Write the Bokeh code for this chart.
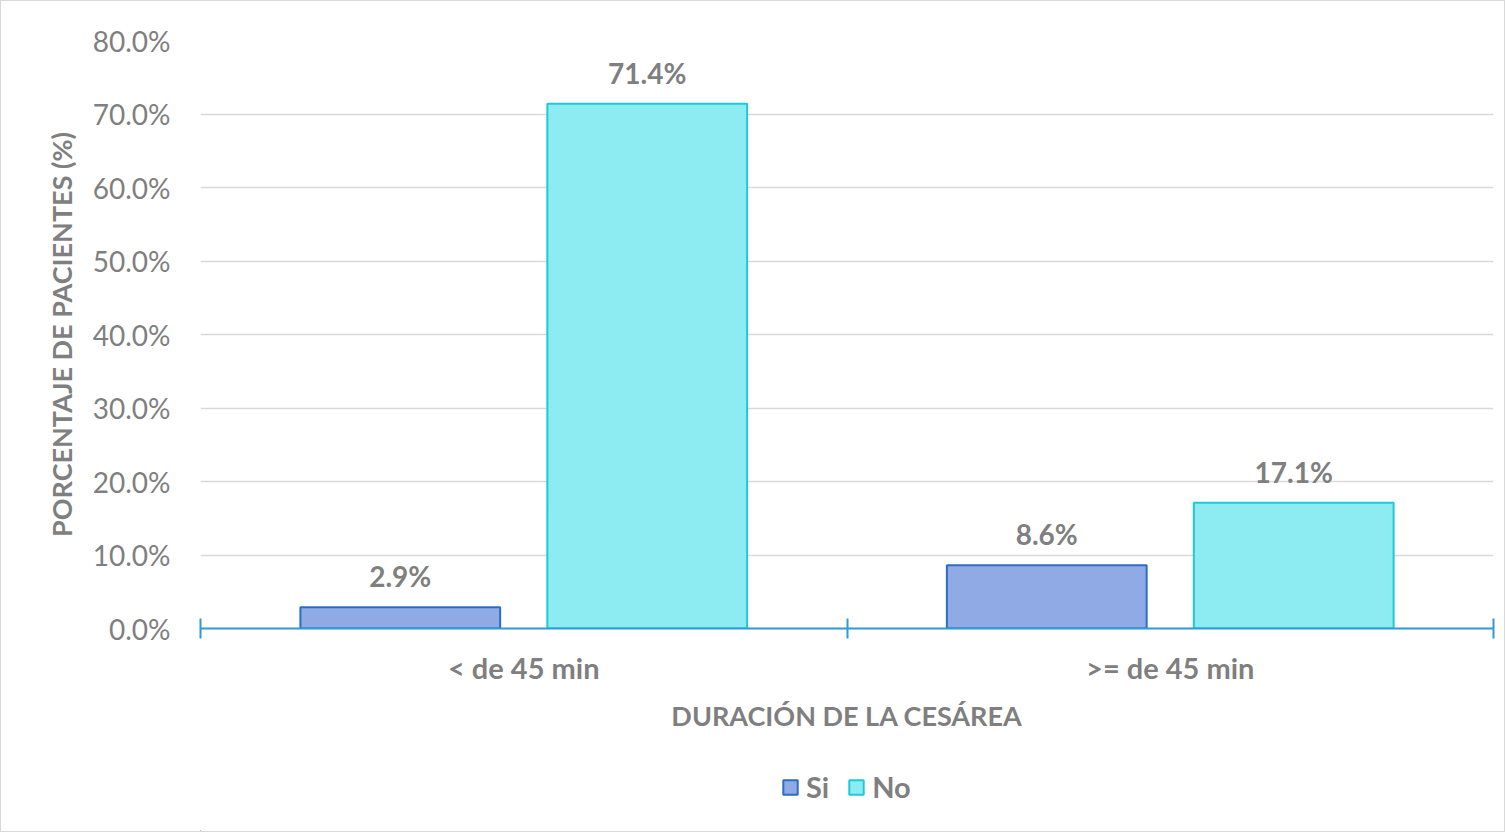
from bokeh.plotting import figure
from bokeh.layouts import column
from bokeh.models import (ColumnDataSource, FixedTicker, PrintfTickFormatter, LabelSet,
                          Legend, LegendItem, Range1d)
from bokeh.core.properties import value
from bokeh.embed import file_html
from bokeh.resources import INLINE

categories = ["< de 45 min", ">= de 45 min"]
series_names = ["Si", "No"]
si_values = [2.9, 8.6]
no_values = [71.4, 17.1]
y_ticks = [0, 10, 20, 30, 40, 50, 60, 70, 80]

FONT = "Lato"
GRAY = "#7F7F7F"
SI_FILL, SI_LINE = "#8FAAE4", "#2C6DC4"
NO_FILL, NO_LINE = "#8DECF2", "#1CCAD8"
offset = 0.191
bar_w = 0.309

centers = [i + 0.5 for i in range(len(categories))]
src_si = ColumnDataSource(dict(x=[c - offset for c in centers], top=si_values,
                               lbl=[f"{v:.1f}%" for v in si_values]))
src_no = ColumnDataSource(dict(x=[c + offset for c in centers], top=no_values,
                               lbl=[f"{v:.1f}%" for v in no_values]))

p = figure(width=1503, height=750, output_backend="svg", toolbar_location=None,
           x_range=Range1d(0, len(categories)), y_range=Range1d(0, 80),
           min_border_left=199, min_border_right=11, min_border_top=39, min_border_bottom=123)
p.outline_line_color = None
p.background_fill_color = "white"

p.vbar(x="x", top="top", width=bar_w, bottom=0, source=src_si,
       fill_color=SI_FILL, line_color=SI_LINE, line_width=2)
p.vbar(x="x", top="top", width=bar_w, bottom=0, source=src_no,
       fill_color=NO_FILL, line_color=NO_LINE, line_width=2)

for src in (src_si, src_no):
    p.add_layout(LabelSet(x="x", y="top", text="lbl", source=src, y_offset=31,
                          text_align="center", text_baseline="middle",
                          text_font=value(FONT), text_font_style="bold",
                          text_font_size="28px", text_color=GRAY))

# y axis
p.yaxis.ticker = FixedTicker(ticks=y_ticks)
p.yaxis.formatter = PrintfTickFormatter(format="%.1f%%")
p.yaxis.axis_line_color = None
p.yaxis.major_tick_line_color = None
p.yaxis.minor_tick_line_color = None
p.yaxis.major_tick_out = 0
p.yaxis.major_tick_in = 0
p.yaxis.major_label_standoff = 30
p.yaxis.major_label_text_font = FONT
p.yaxis.major_label_text_font_size = "28px"
p.yaxis.major_label_text_color = GRAY
p.yaxis.axis_label = "PORCENTAJE DE PACIENTES (%)"
p.yaxis.axis_label_text_font = FONT
p.yaxis.axis_label_text_font_size = "27px"
p.yaxis.axis_label_text_font_style = "bold"
p.yaxis.axis_label_text_color = GRAY
p.yaxis.axis_label_standoff = 12

# x axis
p.xaxis.ticker = FixedTicker(ticks=centers, minor_ticks=list(range(len(categories) + 1)))
p.xaxis.major_label_overrides = {c: cat for c, cat in zip(centers, categories)}
p.xaxis.axis_line_color = "#2E9AD6"
p.xaxis.axis_line_width = 2
p.xaxis.major_tick_line_color = None
p.xaxis.major_tick_out = 0
p.xaxis.major_tick_in = 0
p.xaxis.minor_tick_line_color = "#2E9AD6"
p.xaxis.minor_tick_line_width = 2
p.xaxis.minor_tick_in = 10
p.xaxis.minor_tick_out = 10
p.xaxis.major_label_standoff = 11
p.xaxis.major_label_text_font = FONT
p.xaxis.major_label_text_font_size = "29px"
p.xaxis.major_label_text_font_style = "bold"
p.xaxis.major_label_text_color = GRAY
p.xaxis.axis_label = "DURACIÓN DE LA CESÁREA"
p.xaxis.axis_label_text_font = FONT
p.xaxis.axis_label_text_font_size = "27px"
p.xaxis.axis_label_text_font_style = "bold"
p.xaxis.axis_label_text_color = GRAY
p.xaxis.axis_label_standoff = 11

p.xgrid.grid_line_color = None
p.ygrid.grid_line_color = "#D9D9D9"
p.ygrid.grid_line_width = 1.5

# legend strip below the chart (its bars lie far outside its visible ranges)
lf = figure(width=1503, height=80, output_backend="svg", toolbar_location=None,
            x_range=Range1d(100, 102), y_range=Range1d(1000, 1100),
            min_border_left=0, min_border_right=0, min_border_top=0, min_border_bottom=0)
lf.axis.visible = False
lf.grid.visible = False
lf.outline_line_color = None
l_si = lf.vbar(x="x", top="top", width=bar_w, bottom=0, source=src_si,
               fill_color=SI_FILL, line_color=SI_LINE, line_width=2)
l_no = lf.vbar(x="x", top="top", width=bar_w, bottom=0, source=src_no,
               fill_color=NO_FILL, line_color=NO_LINE, line_width=2)
legend = Legend(items=[LegendItem(label=series_names[0], renderers=[l_si]),
                       LegendItem(label=series_names[1], renderers=[l_no])],
                orientation="horizontal", location=(581, 27),
                border_line_color=None, background_fill_alpha=0,
                padding=0, margin=0, spacing=18, label_standoff=7,
                glyph_width=18, glyph_height=18,
                label_text_font=FONT, label_text_font_size="29px",
                label_text_font_style="bold", label_text_color=GRAY)
lf.add_layout(legend, "center")

layout = column(p, lf, spacing=0)
layout.styles = {"border": "1px solid #D9D9D9"}

open("out.html", "w").write(file_html(layout, INLINE))
